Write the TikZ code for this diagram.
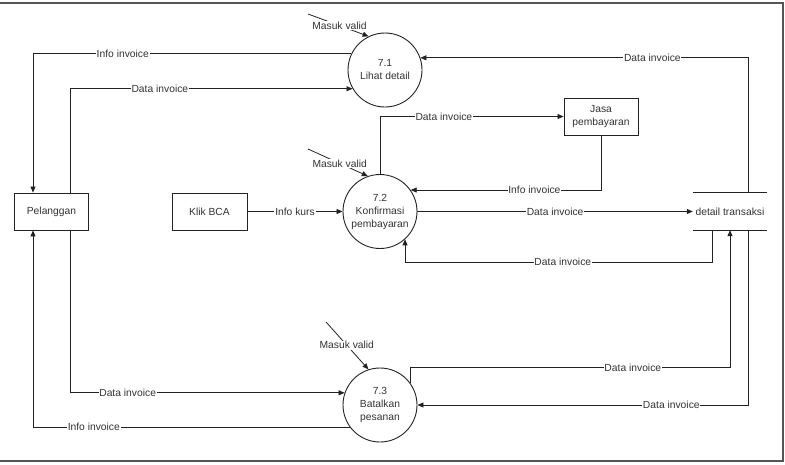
\documentclass[tikz,border=0pt]{standalone}
\usepackage{fontspec}
\setmainfont{Liberation Sans}
\usetikzlibrary{arrows.meta}
\definecolor{ln}{HTML}{222222}
\definecolor{tx}{HTML}{333333}
\definecolor{fr}{HTML}{555555}
\tikzset{
  proc/.style={circle,draw=ln,line width=0.9pt,minimum size=74pt,inner sep=0pt,align=center,text=tx,font=\fontsize{10.3}{13}\selectfont},
  ent/.style={rectangle,draw=ln,line width=0.9pt,minimum width=74pt,minimum height=37pt,inner sep=0pt,align=center,text=tx,font=\fontsize{10.3}{12.5}\selectfont},
  storenode/.style={rectangle,minimum width=74pt,minimum height=37pt,inner sep=0pt,text=tx,font=\fontsize{10.3}{12}\selectfont},
  arr/.style={draw=ln,line width=0.8pt,-{Triangle[length=6pt,width=5pt]}},
  plain/.style={draw=ln,line width=0.8pt},
  lbl/.style={fill=white,inner sep=0.8pt,text=tx,font=\fontsize{10.3}{12}\selectfont},
}
\begin{document}
\begin{tikzpicture}[x=1pt,y=-1pt]
\useasboundingbox (0,0) rectangle (785,464);
% frame
\draw[fr,line width=1.2pt] (0,3) -- (783,3) -- (783,461) -- (0,461);

% nodes
\node[proc] (c71) at (385,70) {7.1\\Lihat detail};
\node[proc] (c72) at (380,211.5) {7.2\\Konfirmasi\\pembayaran};
\node[proc] (c73) at (380,405) {7.3\\Batalkan\\pesanan};
\node[ent] (pel) at (51.5,211.5) {Pelanggan};
\node[ent,minimum width=75pt] (bca) at (209.5,211.5) {Klik BCA};
\node[ent] (jasa) at (601,116.5) {Jasa\\pembayaran};
\node[storenode] (dt) at (730,211.5) {detail transaksi};
\draw[plain] (dt.north west) -- (dt.north east);
\draw[plain] (dt.south west) -- (dt.south east);

% free ends
\coordinate (m1) at (308,14);
\coordinate (m2) at (308,149);
\coordinate (m3) at (326,322);

% Masuk valid
\draw[arr] (m1) -- node[lbl,pos=0.52]{Masuk valid} (c71.116);
\draw[arr] (m2) -- node[lbl,pos=0.53]{Masuk valid} (c72.109);
\draw[arr] (m3) -- node[lbl,pos=0.49]{Masuk valid} (c73.108);

% connectors
\draw[arr] (c71.154) -| node[lbl,pos=0.359]{Info invoice} ([xshift=-18.5pt]pel.north);
\draw[arr] ([xshift=18.5pt]pel.north) |- node[lbl,pos=0.659]{Data invoice} (c71.210);
\draw[arr] ([xshift=18pt]dt.north) |- node[lbl,pos=0.646]{Data invoice} (c71.19);
\draw[arr] (c72.north) |- node[lbl,pos=0.674]{Data invoice} (jasa.west);
\draw[arr] (jasa.south) |- node[lbl,pos=0.675]{Info invoice} (c72.35);
\draw[arr] (c72.east) -- node[lbl,pos=0.5]{Data invoice} (dt.west);
\draw[arr] ([xshift=-18pt]dt.south) -- ++(0,32) -| node[lbl,pos=0.243]{Data invoice} (c72.312);
\draw[arr] (c73.36) -- ++(0,-15.3) -| node[lbl,pos=0.348]{Data invoice} (dt.south);
\draw[arr] ([xshift=18pt]dt.south) |- node[lbl,pos=0.616]{Data invoice} (c73.east);
\draw[arr] ([xshift=18.5pt]pel.south) |- node[lbl,pos=0.605]{Data invoice} (c73.161);
\draw[arr] (c73.216) -| node[lbl,pos=0.404]{Info invoice} ([xshift=-18.5pt]pel.south);
\draw[arr] (bca.east) -- node[lbl,pos=0.5]{Info kurs} (c72.west);
\end{tikzpicture}
\end{document}
